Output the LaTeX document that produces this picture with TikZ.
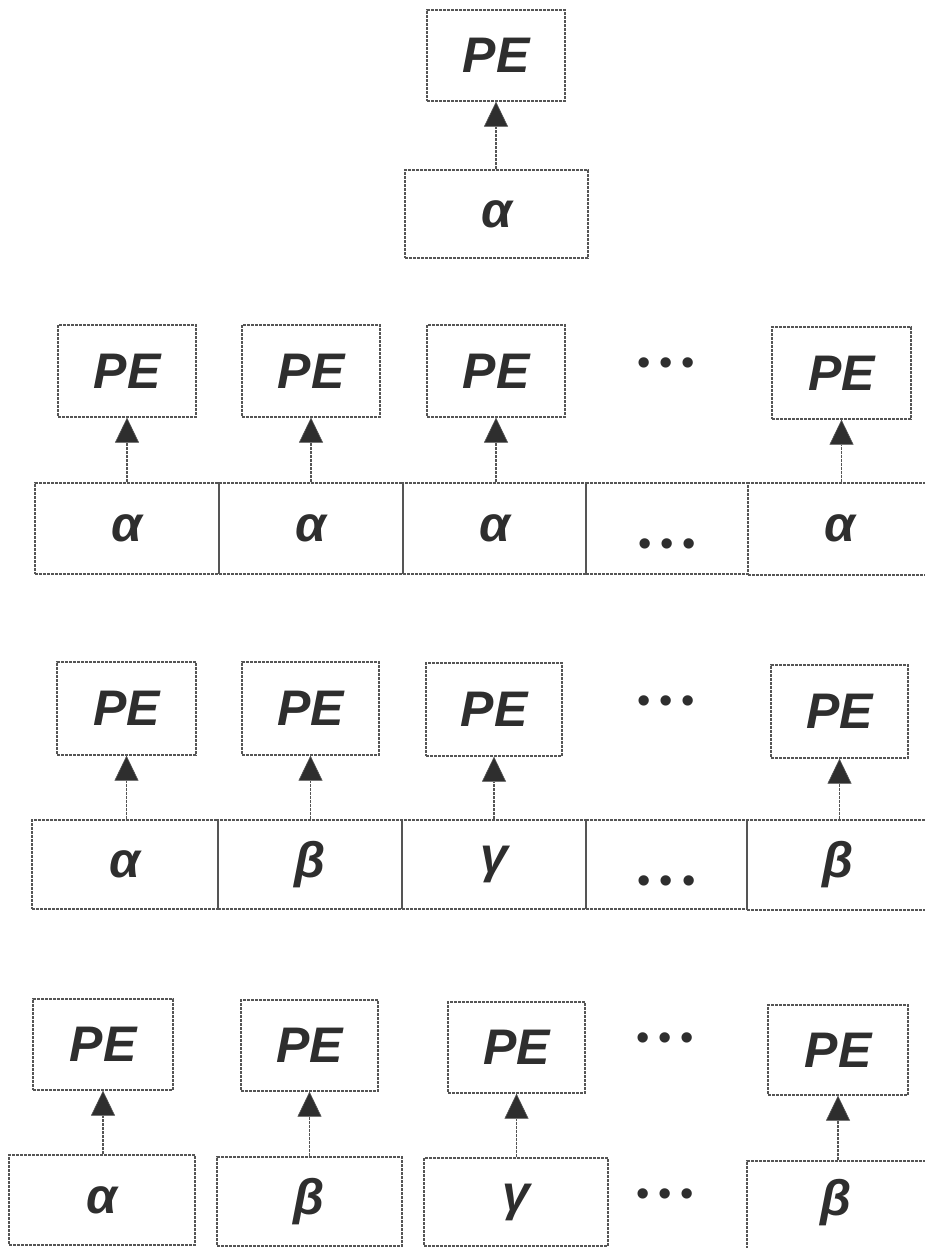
\documentclass[tikz,border=0pt]{standalone}
\usepackage{fontspec}
\setmainfont{Liberation Sans}
\usetikzlibrary{arrows.meta}
\definecolor{linec}{HTML}{555555}
\definecolor{txtc}{HTML}{2E2E2E}
\tikzset{
  box/.style={draw=linec, line width=1.3pt, dash pattern=on 3pt off 1pt, inner sep=0pt,
    font=\fontsize{50}{50}\selectfont\bfseries\itshape, text=txtc},
  arr/.style={draw=linec, line width=1.3pt, dash pattern=on 3pt off 1pt,
    -{Triangle[width=24pt,length=25pt,fill=txtc,line width=0.6pt]}},
  dotsl/.style={inner sep=0pt, text=txtc, font=\fontsize{38}{38}\selectfont}
}
\newcommand\bx[6]{\node[box, minimum width={(#4-#2)*1pt}, minimum height={(#5-#3)*1pt}] (#1) at ({(#2+#4)/2},{(#3+#5)/2}) {#6};}
\newcommand\tdots{\textbullet\hspace{9pt}\textbullet\hspace{9pt}\textbullet}
\begin{document}
\begin{tikzpicture}[x=1pt,y=-1pt]
\useasboundingbox (0,0) rectangle (925,1248);
% ---- row 1
\bx{pa}{427}{10}{565}{101}{PE}
\bx{ca}{405}{170}{588}{258}{α}
\draw[arr] (ca.north -| pa.south) -- (pa.south);
% ---- row 2
\bx{pb1}{58}{325}{196}{417}{PE}
\bx{pb2}{242}{325}{380}{417}{PE}
\bx{pb3}{427}{325}{565}{417}{PE}
\bx{pb5}{772}{327}{911}{419}{PE}
\node[dotsl] (db) at (666,367) {\tdots};
\bx{cb1}{35}{483}{219}{574}{α}
\bx{cb2}{219}{483}{403}{574}{α}
\bx{cb3}{403}{483}{586}{574}{α}
\bx{cb4}{586}{483}{748}{574}{}
\bx{cb5}{748}{483}{935}{575}{}
\node[box, draw=none] (tb5) at (840,528) {α};
\node[dotsl] (dbc) at (cb4.center) [yshift=-19pt] {\tdots};
\draw[arr] (cb1.north -| pb1.south) -- (pb1.south);
\draw[arr] (cb2.north -| pb2.south) -- (pb2.south);
\draw[arr] (cb3.north -| pb3.south) -- (pb3.south);
\draw[arr] (cb5.north -| pb5.south) -- (pb5.south);
% ---- row 3
\bx{pc1}{57}{662}{196}{755}{PE}
\bx{pc2}{242}{662}{379}{755}{PE}
\bx{pc3}{426}{663}{562}{756}{PE}
\bx{pc5}{771}{665}{908}{758}{PE}
\node[dotsl] (dc) at (666,705) {\tdots};
\bx{cc1}{32}{820}{218}{909}{α}
\bx{cc2}{218}{820}{402}{909}{β}
\bx{cc3}{402}{820}{586}{909}{γ}
\bx{cc4}{586}{820}{747}{909}{}
\bx{cc5}{747}{820}{935}{910}{}
\node[box, draw=none] (tc5) at (838,865) {β};
\node[dotsl] (dcc) at (cc4.center) [yshift=-20pt] {\tdots};
\draw[arr] (cc1.north -| pc1.south) -- (pc1.south);
\draw[arr] (cc2.north -| pc2.south) -- (pc2.south);
\draw[arr] (cc3.north -| pc3.south) -- (pc3.south);
\draw[arr] (cc5.north -| pc5.south) -- (pc5.south);
% ---- row 4
\bx{pd1}{33}{999}{173}{1090}{PE}
\bx{pd2}{241}{1000}{378}{1091}{PE}
\bx{pd3}{448}{1002}{585}{1093}{PE}
\bx{pd5}{768}{1005}{908}{1095}{PE}
\node[dotsl] (dd) at (665,1042) {\tdots};
\bx{cd1}{9}{1155}{195}{1245}{α}
\bx{cd2}{217}{1157}{402}{1246}{β}
\bx{cd3}{424}{1158}{608}{1246}{γ}
\bx{cd5}{747}{1161}{940}{1250}{}
\node[box, draw=none] (td5) at (836,1203) {β};
\node[dotsl] (ddc) at (665,1198) {\tdots};
\draw[arr] (cd1.north -| pd1.south) -- (pd1.south);
\draw[arr] (cd2.north -| pd2.south) -- (pd2.south);
\draw[arr] (cd3.north -| pd3.south) -- (pd3.south);
\draw[arr] (cd5.north -| pd5.south) -- (pd5.south);
\end{tikzpicture}
\end{document}
